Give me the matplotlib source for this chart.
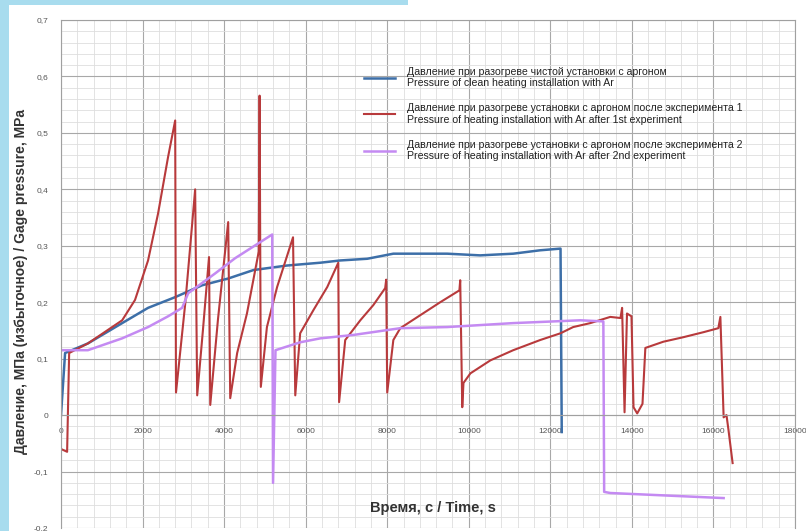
import matplotlib.pyplot as plt
from matplotlib.patches import Rectangle
from matplotlib.ticker import MultipleLocator, FuncFormatter

plt.rcParams['font.family'] = ['Liberation Sans', 'DejaVu Sans']

# clean installation (blue)
clean_t = [0, 100, 660, 1500, 2135, 2800, 3460, 4100, 4720, 5540, 6360, 6850,
           7510, 8150, 9470, 10280, 11090, 11750, 12250, 12280]
clean_p = [0.0, 0.11, 0.127, 0.163, 0.19, 0.209, 0.23, 0.242, 0.257, 0.265, 0.27, 0.274,
           0.277, 0.286, 0.286, 0.283, 0.286, 0.292, 0.295, -0.03]

# after 1st experiment (red)
exp1_t = [0, 150, 200, 660, 1500, 1815, 2135, 2380, 2625, 2800, 2820, 3050, 3290,
          3340, 3480, 3630, 3660, 3850, 4100, 4150, 4320, 4560, 4850, 4870, 4900,
          5050, 5300, 5690, 5745, 5865, 6190, 6530, 6800, 6820, 6970, 7340, 7660,
          7950, 7975, 8000, 8150, 8320, 8810, 9300, 9770, 9790, 9840, 9870, 10040,
          10530, 11090, 11750, 12250, 12560, 12980, 13470, 13720, 13760, 13820,
          13880, 13990, 14040, 14130, 14260, 14330, 14770, 15260, 15760, 16120,
          16170, 16250, 16320, 16370, 16470]
exp1_p = [-0.06, -0.065, 0.11, 0.127, 0.168, 0.204, 0.274, 0.357, 0.457, 0.522, 0.04, 0.2, 0.40,
          0.035, 0.15, 0.28, 0.018, 0.17, 0.342, 0.03, 0.11, 0.18, 0.29, 0.566, 0.05,
          0.156, 0.227, 0.315, 0.035, 0.145, 0.186, 0.227, 0.27, 0.023, 0.133, 0.168, 0.195,
          0.225, 0.24, 0.04, 0.133, 0.154, 0.177, 0.2, 0.221, 0.239, 0.014, 0.057, 0.074,
          0.097, 0.115, 0.133, 0.145, 0.156, 0.163, 0.174, 0.172, 0.19, 0.005,
          0.18, 0.175, 0.014, 0.003, 0.02, 0.119, 0.13, 0.138, 0.147, 0.154,
          0.174, -0.004, 0.0, -0.027, -0.085]

# after 2nd experiment (violet)
exp2_t = [0, 660, 1500, 2135, 2625, 2970, 3120, 3780, 4270, 5180, 5200, 5260, 5865,
          6360, 7170, 8320, 9470, 11090, 12740, 13300, 13320, 13470, 16250]
exp2_p = [0.115, 0.115, 0.136, 0.156, 0.175, 0.19, 0.216, 0.251, 0.278, 0.32, -0.12, 0.115, 0.129,
          0.136, 0.142, 0.154, 0.156, 0.163, 0.168, 0.166, -0.136, -0.138, -0.147]

labels = [
    'Давление при разогреве чистой установки с аргоном\nPressure of clean heating installation with Ar',
    'Давление при разогреве установки с аргоном после эксперимента 1\nPressure of heating installation with Ar after 1st experiment',
    'Давление при разогреве установки с аргоном после эксперимента 2\nPressure of heating installation with Ar after 2nd experiment',
]

fig = plt.figure(figsize=(8.06, 5.31), dpi=100)
fig.patch.set_facecolor('white')
# light blue frame remnants
fig.patches.append(Rectangle((0, 0), 9 / 806, 1, transform=fig.transFigure,
                             facecolor='#a8dcee', edgecolor='none', zorder=0))
fig.patches.append(Rectangle((0, 1 - 5 / 531), 408 / 806, 5 / 531, transform=fig.transFigure,
                             facecolor='#a8dcee', edgecolor='none', zorder=0))

ax = fig.add_axes([61 / 806, 3 / 531, 734 / 806, 508 / 531])
ax.plot(clean_t, clean_p, color='#3d6fa8', lw=1.8, label=labels[0])
ax.plot(exp1_t, exp1_p, color='#b83a3c', lw=1.5, label=labels[1])
ax.plot(exp2_t, exp2_p, color='#c48af2', lw=1.8, label=labels[2])

ax.set_xlim(0, 18000)
ax.set_ylim(-0.2, 0.7)
ax.xaxis.set_major_locator(MultipleLocator(2000))
ax.xaxis.set_minor_locator(MultipleLocator(400))
ax.yaxis.set_major_locator(MultipleLocator(0.1))
ax.yaxis.set_minor_locator(MultipleLocator(0.02))
ax.yaxis.set_major_formatter(FuncFormatter(lambda v, p: ('%g' % round(v, 2)).replace('.', ',')))
ax.grid(which='major', color='#a8a8a8', lw=0.8)
ax.grid(which='minor', color='#dedede', lw=0.6)
ax.set_axisbelow(True)

ax.spines['bottom'].set_position(('data', 0))
for s in ax.spines.values():
    s.set_color('#a0a0a0')
    s.set_linewidth(0.8)
ax.tick_params(which='both', length=0, labelsize=6, colors='#555555')
ax.tick_params(axis='x', pad=9)
ax.tick_params(axis='y', pad=9)

leg = ax.legend(loc='upper left', bbox_to_anchor=(0.405, 0.918), frameon=False,
                fontsize=7.6, labelspacing=1.45, handlelength=3.0, handletextpad=1.1,
                borderpad=0)
for t in leg.get_texts():
    t.set_linespacing(1.15)
    t.set_color('#222222')

fig.text(433 / 806, 1 - 508 / 531, 'Время, с / Time, s', fontsize=10.5, fontweight='bold',
         ha='center', va='center', color='#333333')
fig.text(21 / 806, 1 - 281 / 531, 'Давление, МПа (избыточное) / Gage pressure, MPa',
         fontsize=10, fontweight='bold', rotation=90, ha='center', va='center', color='#333333')

fig.savefig('out.png', dpi=100)
